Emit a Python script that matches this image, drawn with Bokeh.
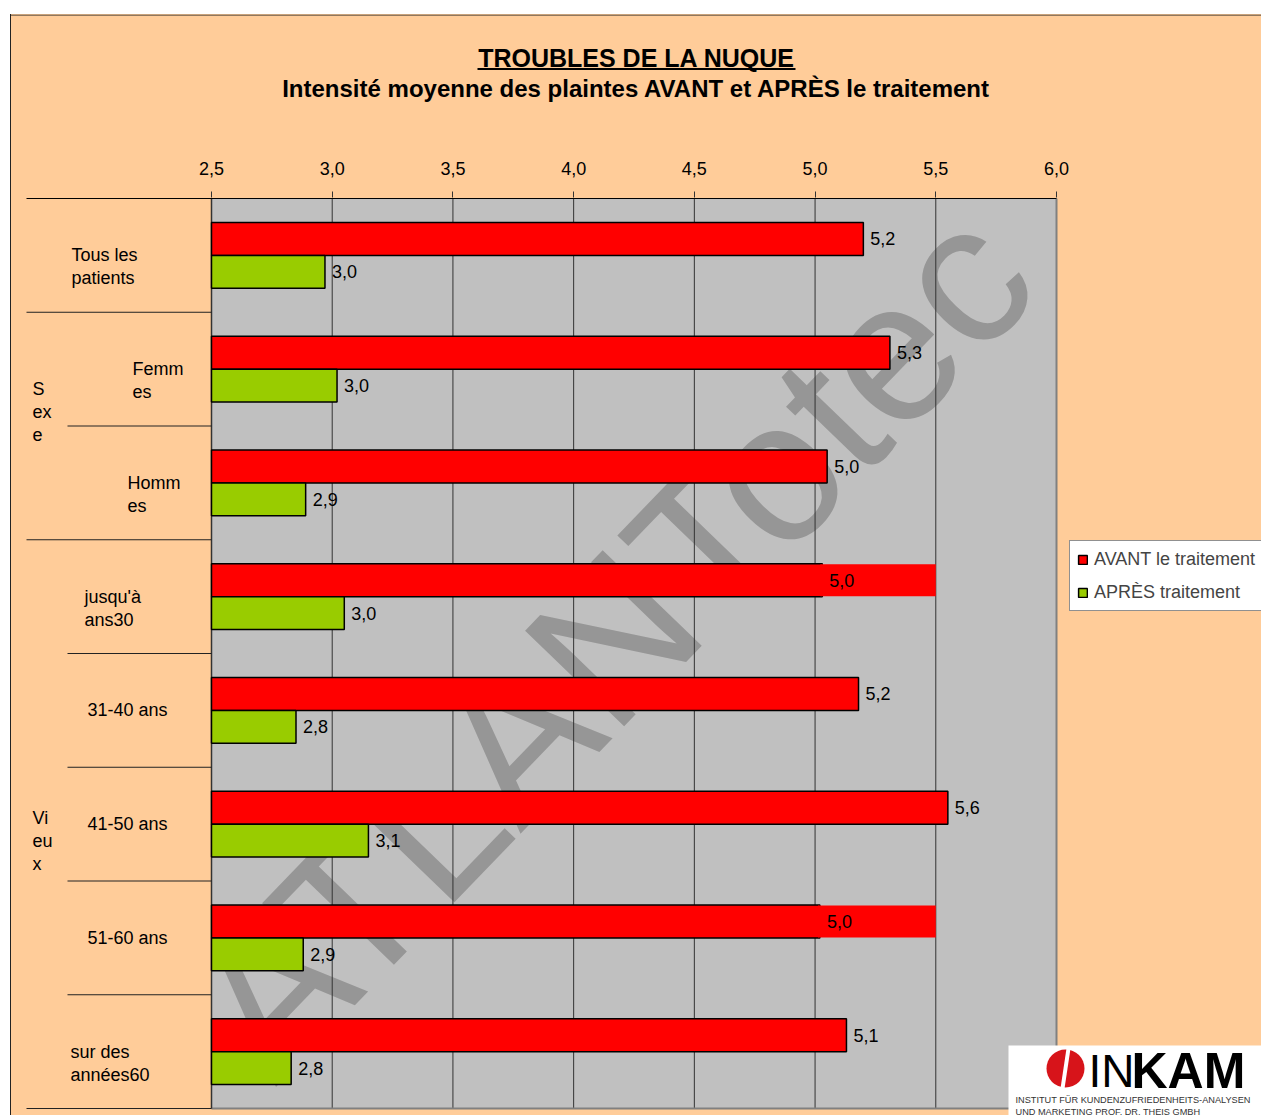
import math
from bokeh.plotting import figure
from bokeh.models import (ColumnDataSource, Range1d, FixedTicker, CustomJSTickFormatter,
                          Legend, LegendItem, Spacer)
from bokeh.layouts import row, column
from bokeh.core.properties import value
from bokeh.embed import file_html
from bokeh.resources import INLINE

# ---------------- data ----------------
title_text = "TROUBLES DE LA NUQUE"
subtitle_text = "Intensité moyenne des plaintes AVANT et APRÈS le traitement"
categories = ["Tous les patients", "Femmes", "Hommes", "jusqu'à ans30",
              "31-40 ans", "41-50 ans", "51-60 ans", "sur des années60"]
cat_line1 = ["Tous les", "Femm", "Homm", "jusqu'à", "31-40 ans", "41-50 ans", "51-60 ans", "sur des"]
cat_line2 = ["patients", "es", "es", "ans30", "", "", "", "années60"]
group_names = ["S\nex\ne", "Vi\neu\nx"]
avant = [5.20, 5.31, 5.05, 5.03, 5.18, 5.55, 5.02, 5.13]
apres = [2.97, 3.02, 2.89, 3.05, 2.85, 3.15, 2.88, 2.83]
avant_labels = ["5,2", "5,3", "5,0", "5,0", "5,2", "5,6", "5,0", "5,1"]
apres_labels = ["3,0", "3,0", "2,9", "3,0", "2,8", "3,1", "2,9", "2,8"]
avant_overpaint_end = [None, None, None, 5.5, None, None, 5.5, None]
x_ticks = [2.5, 3.0, 3.5, 4.0, 4.5, 5.0, 5.5, 6.0]
series_names = ["AVANT le traitement", "APRÈS traitement"]
watermark = "ATLANTotec"
logo_lines = ["INSTITUT FÜR KUNDENZUFRIEDENHEITS-ANALYSEN", "UND MARKETING PROF. DR. THEIS GMBH"]

# ---------------- layout helpers (page pixel -> data) ----------------
FONT = "Liberation Sans"
ORANGE = "#FFCC99"
PX_PER_X = 845 / 3.5
PX_PER_Y = 910 / 8


def X(px):
    return x_ticks[0] + (px - 211) / PX_PER_X


def Y(py):
    return 8 - (py - 198) / PX_PER_Y


n = len(categories)
centers = [n - 0.5 - i for i in range(n)]
BAR_H = 0.29
red_y = [c + BAR_H / 2 for c in centers]
green_y = [c - BAR_H / 2 for c in centers]

# ---------------- title strip (page y 14..124) ----------------
t = figure(width=1251, height=110, x_range=Range1d(10, 1261), y_range=Range1d(124, 14),
           x_axis_location=None, y_axis_location=None, title=None,
           output_backend="svg", toolbar_location=None,
           min_border_left=0, min_border_right=0, min_border_top=0, min_border_bottom=0)
t.background_fill_color = None
t.border_fill_color = None
t.outline_line_color = None
t.xgrid.visible = False
t.ygrid.visible = False
t.segment(x0=[10], x1=[1261], y0=[14.5], y1=[14.5], line_color="#222222", line_width=1)
t.text(x=[636], y=[57], text=[title_text], text_font=value(FONT), text_font_size=value("25px"),
       text_font_style="bold", text_color="black", text_align="center", text_baseline="middle")
t.segment(x0=[477], x1=[795], y0=[68.5], y1=[68.5], line_color="black", line_width=2)
t.text(x=[636], y=[88], text=[subtitle_text], text_font=value(FONT), text_font_size=value("24px"),
       text_font_style="bold", text_color="black", text_align="center", text_baseline="middle")

# ---------------- main chart (page y 124..1115, frame from 197) ----------------
p = figure(width=1251, height=991, x_range=Range1d(X(10), X(1261)), y_range=Range1d(Y(1115), Y(197)),
           x_axis_location="above", y_axis_location=None, title=None,
           output_backend="svg", toolbar_location=None,
           min_border_left=0, min_border_right=0, min_border_top=73, min_border_bottom=0)
p.background_fill_color = None
p.border_fill_color = None
p.outline_line_color = None
p.xgrid.visible = False
p.ygrid.visible = False

ax = p.xaxis[0]
ax.ticker = FixedTicker(ticks=x_ticks)
ax.formatter = CustomJSTickFormatter(code="return tick.toFixed(1).replace('.', ',');")
ax.axis_line_color = None
ax.major_tick_out = 6
ax.major_tick_in = 0
ax.minor_tick_out = 0
ax.minor_tick_in = 0
ax.major_tick_line_color = "#333333"
ax.major_label_text_font = FONT
ax.major_label_text_font_size = "18px"
ax.major_label_text_color = "black"
ax.major_label_standoff = 17

# gray plot area
p.quad(left=[x_ticks[0]], right=[x_ticks[-1]], top=[n], bottom=[0],
       fill_color="#C0C0C0", line_color=None)

# watermark (behind grid and bars)
p.text(x=[X(610)], y=[Y(640)], text=[watermark], angle=math.radians(46),
       text_font=value(FONT), text_font_size=value("200px"), text_color="#969696",
       text_align="center", text_baseline="middle")
# keep the watermark inside the gray area
p.quad(left=[X(11)], right=[X(1261)], top=[0], bottom=[Y(1130)], fill_color=ORANGE, line_color=None)
p.quad(left=[X(11)], right=[x_ticks[0]], top=[n], bottom=[0], fill_color=ORANGE, line_color=None)

# grid lines and borders
grid_x = x_ticks[1:-1]
p.segment(x0=grid_x, x1=grid_x, y0=[0] * len(grid_x), y1=[n] * len(grid_x),
          line_color="#333333", line_width=1)
p.segment(x0=[x_ticks[-1]], x1=[x_ticks[-1]], y0=[0], y1=[n], line_color="#808080", line_width=2)
p.segment(x0=[x_ticks[0]], x1=[x_ticks[-1]], y0=[0], y1=[0], line_color="#808080", line_width=2)
p.segment(x0=[x_ticks[0]], x1=[x_ticks[0]], y0=[0], y1=[n], line_color="#333333", line_width=1.5)
# top axis line
p.segment(x0=[X(26)], x1=[x_ticks[-1]], y0=[n], y1=[n], line_color="black", line_width=1)

# separators in the label zone
full_y = [n - 1, n - 3, 0]
part_y = [n - 2, n - 4, n - 5, n - 6, n - 7]
p.segment(x0=[X(26)] * len(full_y), x1=[x_ticks[0]] * len(full_y), y0=full_y, y1=full_y,
          line_color="#222222", line_width=1)
p.segment(x0=[X(67)] * len(part_y), x1=[x_ticks[0]] * len(part_y), y0=part_y, y1=part_y,
          line_color="#222222", line_width=1)

# bars
src = ColumnDataSource(dict(red_y=red_y, green_y=green_y, avant=avant, apres=apres,
                            left=[x_ticks[0]] * n, avant_labels=avant_labels,
                            apres_labels=apres_labels))
r_red = p.hbar(y="red_y", left="left", right="avant", height=BAR_H, source=src,
               fill_color="#FF0000", line_color="black", line_width=1.5)
r_green = p.hbar(y="green_y", left="left", right="apres", height=BAR_H, source=src,
                 fill_color="#99CC00", line_color="black", line_width=1.5)

ov_idx = [i for i, v in enumerate(avant_overpaint_end) if v is not None]
p.hbar(y=[red_y[i] for i in ov_idx], left=[avant[i] - 0.008 for i in ov_idx],
       right=[avant_overpaint_end[i] for i in ov_idx], height=BAR_H * 0.97,
       fill_color="#FF0000", line_color=None)

# value labels
p.text(x="avant", y="red_y", text="avant_labels", source=src, x_offset=7,
       text_font=value(FONT), text_font_size=value("18px"), text_color="black",
       text_align="left", text_baseline="middle")
p.text(x="apres", y="green_y", text="apres_labels", source=src, x_offset=7,
       text_font=value(FONT), text_font_size=value("18px"), text_color="black",
       text_align="left", text_baseline="middle")

# category labels
cat_px = [71, 132, 127, 84, 87, 87, 87, 70]
LINE = 23 / PX_PER_Y
p.text(x=[X(v) for v in cat_px], y=centers, text=cat_line1,
       text_font=value(FONT), text_font_size=value("18px"), text_color="black",
       text_align="left", text_baseline="middle")
p.text(x=[X(v) for v in cat_px], y=[c - LINE for c in centers], text=cat_line2,
       text_font=value(FONT), text_font_size=value("18px"), text_color="black",
       text_align="left", text_baseline="middle")

# group labels
g_lines, g_x, g_y = [], [], []
for name, top_py in zip(group_names, [388, 817]):
    for k, part in enumerate(name.split("\n")):
        g_lines.append(part)
        g_x.append(X(32))
        g_y.append(Y(top_py + 23 * k))
p.text(x=g_x, y=g_y, text=g_lines, text_font=value(FONT), text_font_size=value("18px"),
       text_color="black", text_align="left", text_baseline="middle")

# INKAM logo block
p.quad(left=[X(1008)], right=[X(1280)], top=[Y(1045)], bottom=[Y(1130)],
       fill_color="white", line_color=None)
p.scatter(x=[X(1065)], y=[Y(1068)], marker="circle", size=38, fill_color="#D7141A", line_color=None)
p.segment(x0=[X(1068)], x1=[X(1062)], y0=[Y(1048)], y1=[Y(1088)], line_color="white", line_width=4)
p.text(x=[X(1088)], y=[Y(1070)], text=["IN"], text_font=value(FONT), text_font_size=value("46px"),
       text_color="black", text_align="left", text_baseline="middle")
p.text(x=[X(1131)], y=[Y(1070)], text=["KAM"], text_font=value(FONT), text_font_size=value("50px"),
       text_font_style="bold", text_color="black", text_align="left", text_baseline="middle")
p.text(x=[X(1015), X(1015)], y=[Y(1099), Y(1111)], text=logo_lines, text_font=value(FONT),
       text_font_size=value("9.2px"), text_color="#333333", text_align="left", text_baseline="middle")

# legend
legend = Legend(items=[LegendItem(label=series_names[0], renderers=[r_red]),
                       LegendItem(label=series_names[1], renderers=[r_green])],
                location=(1069 - 10, 1115 - 611))
legend.border_line_color = "#222222"
legend.border_line_width = 1
legend.background_fill_color = "white"
legend.background_fill_alpha = 1
legend.label_text_font = FONT
legend.label_text_font_size = "18px"
legend.glyph_width = 11
legend.glyph_height = 11
legend.label_standoff = 6
legend.padding = 7
legend.spacing = 11
legend.margin = 0
legend.label_height = 22
p.add_layout(legend, "center")

inner = column(t, p, styles={"background": f"linear-gradient(to right, #222222 0px, #222222 1px, {ORANGE} 1px, {ORANGE} 100%)"})
layout = column(Spacer(height=14), row(Spacer(width=10), inner))
open("out.html", "w").write(file_html(layout, INLINE))
